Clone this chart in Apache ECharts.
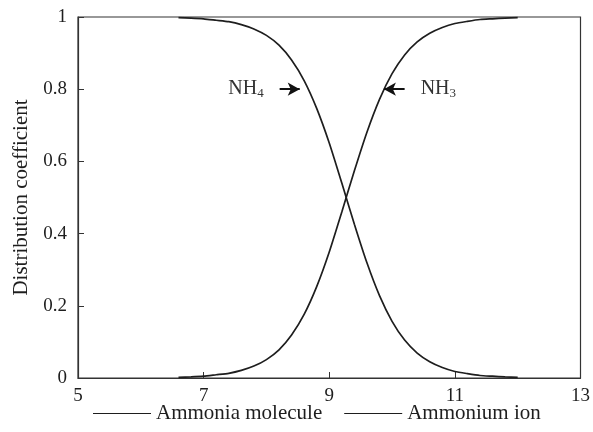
<!DOCTYPE html>
<html><head><meta charset="utf-8">
<script src="https://cdn.jsdelivr.net/npm/echarts@6/dist/echarts.min.js"></script>
<style>html,body{margin:0;padding:0;background:#fff}#c{width:593px;height:432px}</style>
</head><body><div id="c"></div>
<script>
const pH = [6.6, 6.8, 7.0, 7.2, 7.4, 7.6, 7.8, 8.0, 8.2, 8.4, 8.6, 8.8, 9.0, 9.2, 9.4, 9.6, 9.8, 10.0, 10.2, 10.4, 10.6, 10.8, 11.0, 11.2, 11.4, 11.6, 11.8, 12.0];
const ammoniaMolecule = [0.002, 0.003, 0.005, 0.009, 0.013, 0.021, 0.033, 0.051, 0.078, 0.119, 0.176, 0.253, 0.349, 0.46, 0.574, 0.681, 0.772, 0.843, 0.895, 0.931, 0.955, 0.971, 0.982, 0.988, 0.993, 0.995, 0.997, 0.998];
const ammoniumIon = [0.998, 0.997, 0.995, 0.991, 0.987, 0.979, 0.967, 0.949, 0.922, 0.881, 0.824, 0.747, 0.651, 0.54, 0.426, 0.319, 0.228, 0.157, 0.105, 0.069, 0.045, 0.029, 0.018, 0.012, 0.007, 0.005, 0.003, 0.002];
const xTicks = [5, 7, 9, 11, 13];
const yTicks = [0, 0.2, 0.4, 0.6, 0.8, 1];
const seriesNames = ['Ammonia molecule', 'Ammonium ion'];

const font = 'Liberation Serif';
const ink = '#1e1e1e';
const chart = echarts.init(document.getElementById('c'));
const pairs = arr => pH.map((x, i) => [x, arr[i]]);
const subLabel = (main, sub) => ({
  show: true, position: 'start', distance: 16,
  formatter: '{a|' + main + '}{b|' + sub + '}',
  rich: {
    a: { fontFamily: font, fontSize: 20, color: '#333' },
    b: { fontFamily: font, fontSize: 13, color: '#333', padding: [9, 0, 0, 0] }
  }
});
chart.setOption({
  animation: false,
  textStyle: { fontFamily: font, color: ink },
  grid: { left: 78, right: 11, top: 17, bottom: 54, show: true, borderColor: '#333', borderWidth: 1.2 },
  legend: {
    top: 403, left: 93, itemWidth: 58, itemHeight: 10, itemGap: 22, padding: 0,
    textStyle: { fontFamily: font, fontSize: 21, color: ink },
    data: seriesNames.map(n => ({ name: n, icon: 'path://M0,5L58,5L58,6.2L0,6.2Z' }))
  },
  xAxis: {
    type: 'value', min: xTicks[0], max: xTicks[xTicks.length - 1], interval: 2,
    axisLine: { lineStyle: { color: '#333', width: 1.2 } },
    axisTick: { inside: true, length: 6, lineStyle: { color: '#333' } },
    axisLabel: { fontFamily: font, fontSize: 19, color: ink, margin: 9 },
    splitLine: { show: false }
  },
  yAxis: {
    type: 'value', min: yTicks[0], max: yTicks[yTicks.length - 1], interval: 0.2,
    name: 'Distribution coefficient', nameLocation: 'middle', nameGap: 46,
    nameTextStyle: { fontFamily: font, fontSize: 21, color: ink },
    axisLine: { lineStyle: { color: '#333', width: 1.2 } },
    axisTick: { inside: true, length: 6, lineStyle: { color: '#333' } },
    axisLabel: { fontFamily: font, fontSize: 19, color: ink, margin: 11,
      formatter: v => (v === 0 || v === 1) ? String(v) : v.toFixed(1) },
    splitLine: { show: false }
  },
  series: [
    {
      name: seriesNames[0], type: 'line', data: pairs(ammoniaMolecule), symbol: 'none', smooth: 0.2,
      lineStyle: { color: ink, width: 1.7 }, itemStyle: { color: ink },
      markLine: {
        silent: true, symbol: ['none', 'arrow'], symbolSize: [10, 12],
        lineStyle: { color: '#111', width: 2, type: 'solid' },
        label: subLabel('NH', '3'),
        data: [[{ coord: [10.2, 0.8] }, { coord: [9.87, 0.8] }]]
      }
    },
    {
      name: seriesNames[1], type: 'line', data: pairs(ammoniumIon), symbol: 'none', smooth: 0.2,
      lineStyle: { color: ink, width: 1.7 }, itemStyle: { color: ink },
      markLine: {
        silent: true, symbol: ['none', 'arrow'], symbolSize: [10, 12],
        lineStyle: { color: '#111', width: 2, type: 'solid' },
        label: subLabel('NH', '4'),
        data: [[{ coord: [8.21, 0.8] }, { coord: [8.53, 0.8] }]]
      }
    }
  ]
});
</script></body></html>
